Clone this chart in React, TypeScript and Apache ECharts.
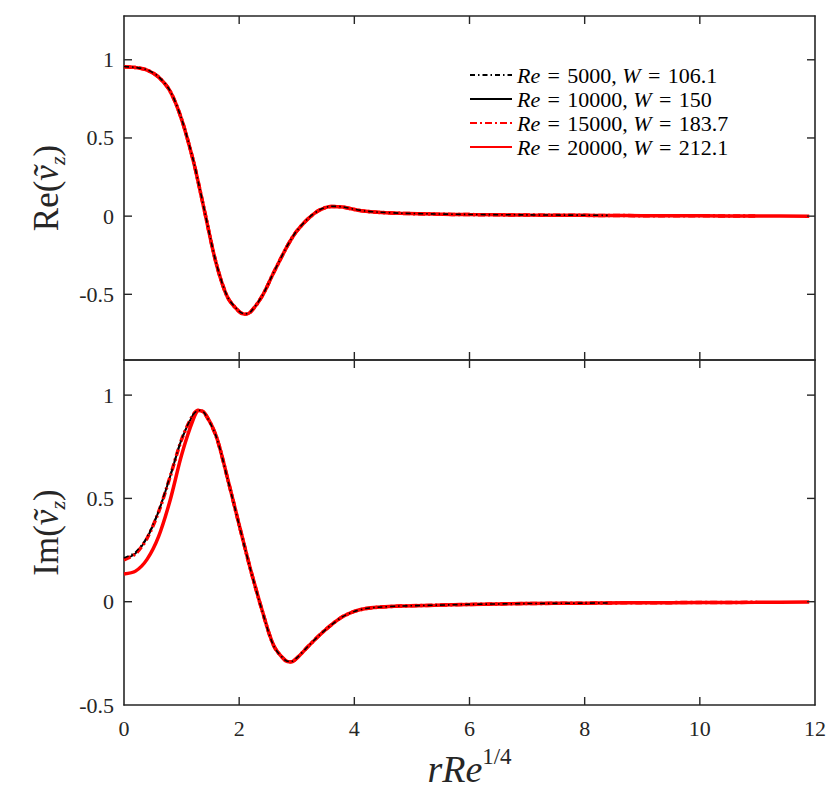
import React, { useEffect, useRef } from 'react';
import * as echarts from 'echarts';

// radial coordinate r*Re^(1/4)
const rValues = [
  0, 0.2, 0.4, 0.6, 0.8, 1.0, 1.2, 1.3, 1.4, 1.6, 1.8, 2.0, 2.1, 2.2, 2.4, 2.6,
  2.8, 2.9, 3.0, 3.2, 3.4, 3.6, 3.8, 4.0, 4.2, 4.4, 4.8, 5.4, 6, 7, 8, 8.4, 9,
  10, 11, 11.9,
];

// Re(v_z) – upper panel
const reRe5000 = [
  0.957, 0.951, 0.936, 0.892, 0.802, 0.622, 0.362, 0.202, 0.032, -0.298, -0.518,
  -0.608, -0.626, -0.611, -0.509, -0.359, -0.214, -0.149, -0.094, -0.014, 0.041,
  0.063, 0.059, 0.044, 0.032, 0.026, 0.019, 0.014, 0.011, 0.008, 0.006, 0.005,
];
const reRe10000 = [
  0.956, 0.95, 0.935, 0.891, 0.801, 0.621, 0.361, 0.201, 0.031, -0.299, -0.519,
  -0.609, -0.627, -0.611, -0.51, -0.36, -0.215, -0.15, -0.095, -0.015, 0.04,
  0.062, 0.058, 0.043, 0.031, 0.025, 0.018, 0.013, 0.01, 0.007, 0.005, 0.004,
  0.003, 0.002,
];
const reRe15000 = [
  0.955, 0.95, 0.935, 0.89, 0.8, 0.62, 0.36, 0.2, 0.03, -0.3, -0.52, -0.61,
  -0.628, -0.612, -0.51, -0.36, -0.215, -0.15, -0.095, -0.015, 0.04, 0.062,
  0.058, 0.043, 0.031, 0.025, 0.018, 0.013, 0.01, 0.007, 0.005, 0.004, 0.003,
  0.002, 0.001,
];
const reRe20000 = [
  0.955, 0.95, 0.934, 0.889, 0.799, 0.619, 0.359, 0.199, 0.029, -0.301, -0.521,
  -0.611, -0.628, -0.612, -0.511, -0.361, -0.216, -0.151, -0.096, -0.016, 0.039,
  0.062, 0.058, 0.043, 0.031, 0.025, 0.018, 0.013, 0.01, 0.007, 0.005, 0.004,
  0.003, 0.002, 0.001, 0.0,
];

// Im(v_z) – lower panel
const imRe5000 = [
  0.212, 0.24, 0.314, 0.44, 0.608, 0.787, 0.905, 0.927, 0.912, 0.8, 0.593, 0.37,
  0.26, 0.152, -0.045, -0.214, -0.283, -0.29, -0.272, -0.215, -0.16, -0.112,
  -0.072, -0.047, -0.033, -0.027, -0.021, -0.017, -0.013, -0.009, -0.007, -0.006,
];
const imRe10000 = [
  0.205, 0.234, 0.309, 0.436, 0.605, 0.786, 0.905, 0.928, 0.913, 0.801, 0.594,
  0.371, 0.261, 0.153, -0.044, -0.213, -0.283, -0.29, -0.272, -0.215, -0.16,
  -0.112, -0.072, -0.047, -0.033, -0.027, -0.021, -0.017, -0.013, -0.009,
  -0.007, -0.006, -0.005, -0.004,
];
const imRe15000 = [
  0.203, 0.232, 0.307, 0.434, 0.604, 0.785, 0.905, 0.928, 0.913, 0.801, 0.594,
  0.371, 0.261, 0.153, -0.044, -0.213, -0.284, -0.291, -0.273, -0.216, -0.16,
  -0.112, -0.072, -0.047, -0.033, -0.027, -0.021, -0.017, -0.013, -0.009,
  -0.007, -0.006, -0.005, -0.004, -0.003,
];
const imRe20000 = [
  0.134, 0.148, 0.205, 0.315, 0.49, 0.71, 0.88, 0.925, 0.914, 0.803, 0.596,
  0.372, 0.262, 0.154, -0.043, -0.212, -0.284, -0.292, -0.274, -0.216, -0.161,
  -0.112, -0.072, -0.047, -0.033, -0.027, -0.021, -0.017, -0.013, -0.009,
  -0.007, -0.006, -0.005, -0.004, -0.003, -0.002,
];

// tick positions
const xTickValues = [2, 4, 6, 8, 10];
const yTickValuesTop = [-0.5, 0, 0.5, 1];
const yTickValuesBot = [0, 0.5, 1];

const seriesNames = [
  'Re = 5000, W = 106.1',
  'Re = 10000, W = 150',
  'Re = 15000, W = 183.7',
  'Re = 20000, W = 212.1',
];
const EQ = '\u2004=\u2004';
const legendRich: Record<string, string> = {
  'Re = 5000, W = 106.1': `{i|Re}${EQ}5000, {i|W}${EQ}106.1`,
  'Re = 10000, W = 150': `{i|Re}${EQ}10000, {i|W}${EQ}150`,
  'Re = 15000, W = 183.7': `{i|Re}${EQ}15000, {i|W}${EQ}183.7`,
  'Re = 20000, W = 212.1': `{i|Re}${EQ}20000, {i|W}${EQ}212.1`,
};

const FONT = 'Liberation Serif';
const FRAME = '#262626';

const X_MIN = 0;
const X_MAX = 12;
const Y_TOP_MIN = -0.92;
const Y_TOP_MAX = 1.28;
const Y_BOT_MIN = -0.5;
const Y_BOT_MAX = 1.17;

const toPairs = (ys: number[]) => ys.map((y, i) => [rValues[i], y]);

export default function App() {
  const ref = useRef<HTMLDivElement>(null);
  useEffect(() => {
    if (!ref.current) return;
    const chart = echarts.init(ref.current, undefined, { renderer: 'svg' });

    const styles = [
      { color: '#000000', width: 1.6, type: [5, 3, 1.5, 3], z: 5 },
      { color: '#000000', width: 2, type: 'solid', z: 2 },
      { color: '#ff0000', width: 3.5, type: [7, 3, 2, 3], z: 4 },
      { color: '#ff0000', width: 3.5, type: 'solid', z: 3 },
    ];
    const topData = [reRe5000, reRe10000, reRe15000, reRe20000];
    const botData = [imRe5000, imRe10000, imRe15000, imRe20000];

    const mk = (name: string, data: number[], idx: number, xi: number, yi: number) => ({
      type: 'line',
      name,
      data: toPairs(data),
      xAxisIndex: xi,
      yAxisIndex: yi,
      symbol: 'none',
      smooth: 0.3,
      z: styles[idx].z,
      lineStyle: {
        color: styles[idx].color,
        width: styles[idx].width,
        type: styles[idx].type,
      },
      itemStyle: { color: styles[idx].color },
    });

    const series: any[] = [];
    seriesNames.forEach((n, i) => series.push(mk(n, topData[i], i, 0, 0)));
    seriesNames.forEach((n, i) => series.push(mk(n, botData[i], i, 2, 2)));

    const halfLabel = (v: number) =>
      Math.abs(v * 2 - Math.round(v * 2)) < 1e-6 ? String(Math.round(v * 2) / 2) : '';

    const line = () => ({ show: true, onZero: false, lineStyle: { color: FRAME, width: 1.6 } });
    const noTick = () => ({ show: false });

    const xRange = { type: 'value', min: X_MIN, max: X_MAX, interval: 2, splitLine: { show: false } };
    const yRangeTop = { type: 'value', min: Y_TOP_MIN, max: Y_TOP_MAX, splitNumber: 5, splitLine: { show: false } };
    const yRangeBot = { type: 'value', min: Y_BOT_MIN, max: Y_BOT_MAX, interval: 0.5, splitLine: { show: false } };

    const yName = (txt: string) => ({
      name: txt,
      nameLocation: 'middle',
      nameGap: 54,
      nameRotate: 90,
      nameTextStyle: {
        fontFamily: FONT,
        fontSize: 35,
        color: FRAME,
        rich: {
          r: { fontFamily: FONT, fontSize: 35, color: FRAME, lineHeight: 44 },
          i: { fontFamily: FONT, fontSize: 35, fontStyle: 'italic', color: FRAME, lineHeight: 44 },
          s: {
            fontFamily: FONT,
            fontSize: 22,
            fontStyle: 'italic',
            color: FRAME,
            lineHeight: 44,
            verticalAlign: 'bottom',
          },
        },
      },
    });

    const yLabel = () => ({
      show: true,
      fontFamily: FONT,
      fontSize: 22,
      color: FRAME,
      margin: 10,
      formatter: halfLabel,
    });

    const option: any = {
      animation: false,
      backgroundColor: '#ffffff',
      grid: [
        { left: 124, top: 16, width: 691, height: 344 },
        { left: 124, top: 360, width: 691, height: 345 },
      ],
      xAxis: [
        { ...xRange, gridIndex: 0, position: 'bottom', axisLine: line(), axisTick: noTick(), axisLabel: { show: false } },
        { ...xRange, gridIndex: 0, position: 'top', axisLine: line(), axisTick: noTick(), axisLabel: { show: false } },
        {
          ...xRange,
          gridIndex: 1,
          position: 'bottom',
          axisLine: line(),
          axisTick: noTick(),
          axisLabel: { show: true, fontFamily: FONT, fontSize: 22, color: FRAME, margin: 12 },
          name: '{i|rRe}{sup|1/4}',
          nameLocation: 'middle',
          nameGap: 40,
          nameTextStyle: {
            fontFamily: FONT,
            fontSize: 38,
            color: FRAME,
            rich: {
              i: { fontFamily: FONT, fontSize: 38, fontStyle: 'italic', color: FRAME, lineHeight: 48 },
              sup: {
                fontFamily: FONT,
                fontSize: 23,
                color: FRAME,
                lineHeight: 48,
                verticalAlign: 'top',
              },
            },
          },
        },
        { ...xRange, gridIndex: 1, position: 'top', axisLine: line(), axisTick: noTick(), axisLabel: { show: false } },
      ],
      yAxis: [
        {
          ...yRangeTop,
          gridIndex: 0,
          position: 'left',
          axisLine: line(),
          axisTick: noTick(),
          axisLabel: yLabel(),
          ...yName('{r|Re(}{i|ṽ}{s|z}{r|)}'),
        },
        { ...yRangeTop, gridIndex: 0, position: 'right', axisLine: line(), axisTick: noTick(), axisLabel: { show: false } },
        {
          ...yRangeBot,
          gridIndex: 1,
          position: 'left',
          axisLine: line(),
          axisTick: noTick(),
          axisLabel: yLabel(),
          ...yName('{r|Im(}{i|ṽ}{s|z}{r|)}'),
        },
        { ...yRangeBot, gridIndex: 1, position: 'right', axisLine: line(), axisTick: noTick(), axisLabel: { show: false } },
      ],
      legend: {
        data: seriesNames,
        orient: 'vertical',
        left: 464,
        top: 59,
        itemWidth: 42,
        itemHeight: 12,
        itemGap: 2,
        itemStyle: { opacity: 0 },
        formatter: (name: string) => legendRich[name] || name,
        textStyle: {
          fontFamily: FONT,
          fontSize: 22,
          color: '#000',
          lineHeight: 22,
          rich: {
            i: { fontFamily: FONT, fontSize: 22, fontStyle: 'italic', color: '#000', lineHeight: 22 },
          },
        },
      },
      series,
    };

    chart.setOption(option);

    // inward tick marks on all four edges, placed through the grids' own scales
    const TL = 8;
    const ticks: any[] = [];
    const addTick = (p: number[], dx: number, dy: number) => {
      if (!p || isNaN(p[0]) || isNaN(p[1])) return;
      ticks.push({
        type: 'line',
        silent: true,
        z: 100,
        shape: { x1: p[0], y1: p[1], x2: p[0] + dx * TL, y2: p[1] + dy * TL },
        style: { stroke: FRAME, lineWidth: 1.4 },
      });
    };
    const panel = (g: number, yMin: number, yMax: number, yVals: number[]) => {
      xTickValues.forEach((v) => {
        addTick(chart.convertToPixel({ gridIndex: g }, [v, yMin]) as number[], 0, -1);
        addTick(chart.convertToPixel({ gridIndex: g }, [v, yMax]) as number[], 0, 1);
      });
      yVals.forEach((v) => {
        addTick(chart.convertToPixel({ gridIndex: g }, [X_MIN, v]) as number[], 1, 0);
        addTick(chart.convertToPixel({ gridIndex: g }, [X_MAX, v]) as number[], -1, 0);
      });
    };
    panel(0, Y_TOP_MIN, Y_TOP_MAX, yTickValuesTop);
    panel(1, Y_BOT_MIN, Y_BOT_MAX, yTickValuesBot);
    chart.setOption({ graphic: ticks });

    return () => chart.dispose();
  }, []);

  return (
    <div
      ref={ref}
      style={{ position: 'fixed', left: 0, top: 0, width: 831, height: 802, background: '#fff' }}
    />
  );
}
